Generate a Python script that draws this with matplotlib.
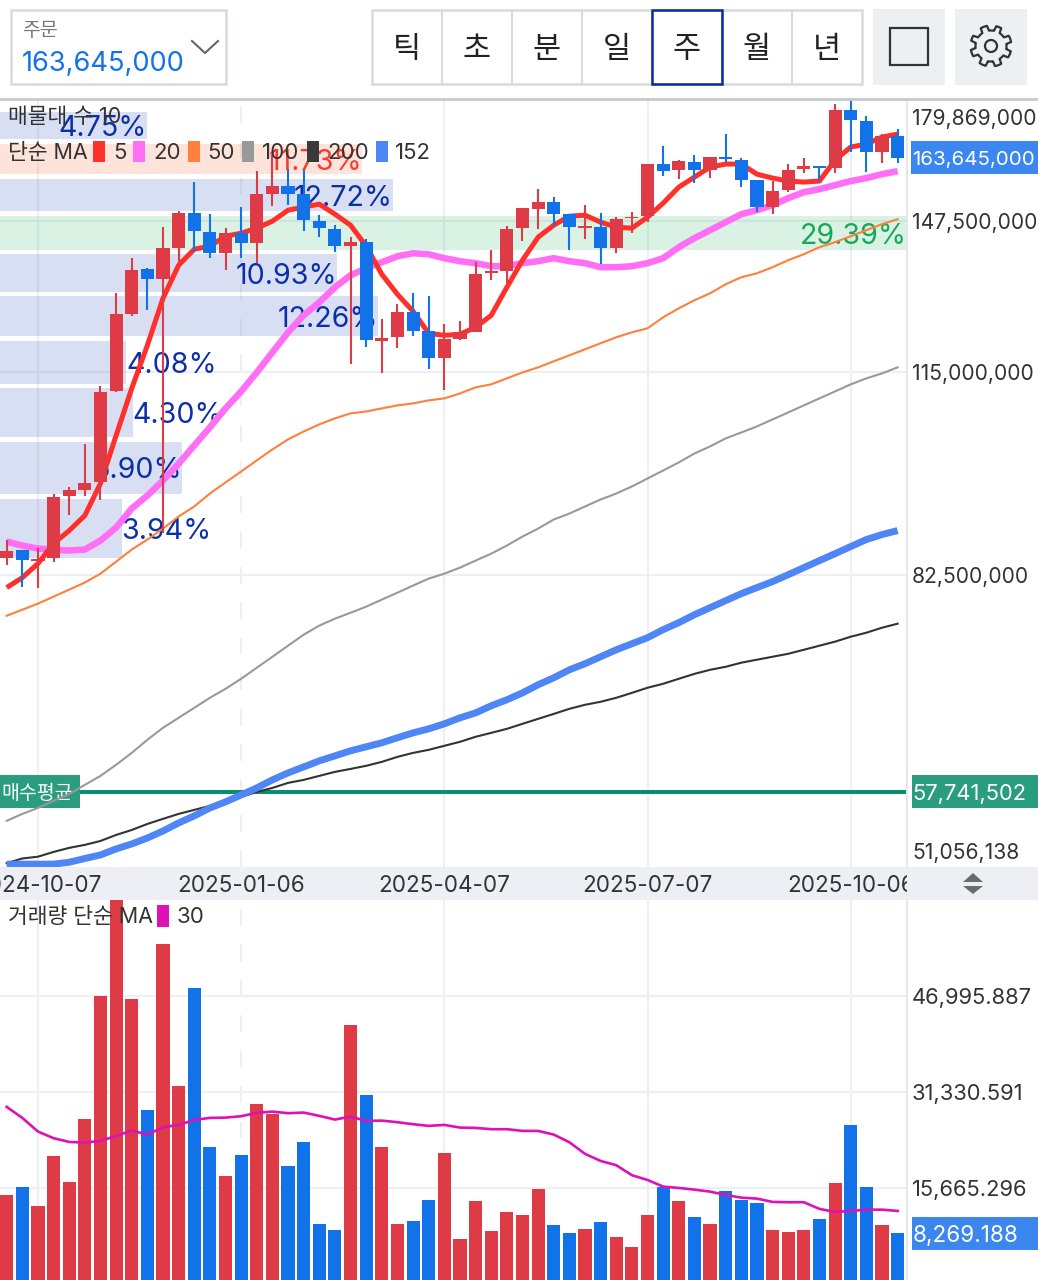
import numpy as np
import matplotlib
matplotlib.use("Agg")
import matplotlib.pyplot as plt
from matplotlib.patches import Rectangle, Polygon, Circle
from matplotlib.lines import Line2D
from matplotlib.transforms import Affine2D

W, H = 1038, 1280
plt.rcParams['font.family'] = ['Inter', 'Noto Sans CJK KR', 'DejaVu Sans']

# weekly candles, million won
opens = [84.85, 85.97, 84.43, 84.85, 93.95, 94.88, 95.99, 111.47, 126.51, 136.23,
         134.01, 141.02, 149.36, 144.76, 139.85, 144.53, 142.19, 154.10, 156.15, 154.10,
         147.42, 145.49, 141.49, 142.42, 121.03, 121.83, 126.92, 123.03, 117.70, 121.43,
         122.82, 135.33, 135.77, 145.73, 150.35, 152.10, 149.12, 145.73, 145.97, 141.02,
         148.15, 148.63, 161.91, 160.30, 162.44, 160.30, 163.77, 162.98, 157.70, 150.85,
         155.12, 160.57, 161.37, 160.84, 176.93, 173.77, 165.11, 169.53]
highs = [87.40, 85.97, 86.26, 94.26, 95.20, 102.18, 112.40, 130.95, 138.72, 136.45,
         145.97, 149.85, 157.19, 149.12, 145.73, 150.85, 160.03, 164.31, 160.57, 160.30,
         148.87, 146.45, 143.59, 143.12, 125.49, 128.62, 130.95, 130.31, 124.46, 125.07,
         137.81, 140.55, 146.21, 150.60, 155.38, 153.35, 149.12, 151.35, 149.36, 148.39,
         149.60, 161.91, 166.77, 162.98, 164.31, 163.77, 170.08, 163.51, 157.70, 157.45,
         161.91, 163.51, 161.37, 178.69, 179.87, 175.20, 170.08, 171.49]
lows = [83.88, 80.90, 80.77, 84.29, 90.92, 93.95, 93.19, 111.28, 126.10, 127.34,
        88.40, 137.59, 140.08, 138.72, 136.00, 138.72, 137.59, 151.10, 151.35, 145.00,
        143.59, 140.08, 116.54, 119.84, 114.81, 119.64, 122.03, 115.58, 111.65, 121.23,
        122.82, 133.79, 133.14, 142.65, 145.49, 146.21, 140.55, 143.12, 137.37, 139.85,
        144.53, 147.18, 158.74, 157.96, 156.93, 158.22, 162.44, 155.89, 149.60, 149.12,
        154.60, 159.51, 157.45, 159.51, 165.11, 159.77, 162.17, 162.17]
closes = [85.83, 84.57, 84.71, 93.80, 94.73, 95.83, 111.28, 126.51, 136.00, 134.01,
          141.02, 149.36, 145.00, 139.85, 144.53, 142.19, 154.10, 156.15, 154.10, 147.66,
          145.73, 141.49, 142.42, 121.23, 121.63, 126.92, 123.03, 117.70, 121.43, 122.82,
          135.11, 135.77, 145.49, 150.60, 152.10, 149.12, 145.97, 146.21, 141.02, 147.90,
          148.39, 161.91, 160.03, 162.71, 160.30, 163.77, 163.24, 157.70, 150.85, 154.86,
          160.30, 161.37, 160.84, 176.93, 174.06, 165.11, 169.53, 163.645]

ma5 = [80.77, 82.10, 84.02, 86.83, 88.70, 90.92, 95.83, 103.70, 112.02, 120.24,
       129.89, 137.14, 140.78, 141.49, 143.83, 144.53, 145.73, 147.42, 150.10, 150.85,
       151.60, 149.12, 146.45, 141.49, 135.11, 130.74, 127.13, 122.62, 122.22, 122.42,
       123.85, 126.30, 132.25, 138.27, 143.59, 146.45, 148.63, 148.87, 147.18, 145.97,
       145.73, 148.39, 151.85, 155.89, 158.48, 161.10, 161.91, 161.91, 159.25, 158.22,
       157.45, 157.19, 157.45, 162.98, 166.49, 167.32, 169.25, 170.08]
ma20 = [87.11, 86.54, 86.11, 85.97, 85.83, 85.97, 87.26, 89.14, 91.97, 93.95,
        96.31, 99.00, 102.01, 105.07, 108.40, 111.47, 115.00, 118.85, 122.82, 126.30,
        129.04, 132.25, 134.89, 136.45, 137.81, 139.17, 139.85, 139.63, 138.72, 138.04,
        137.59, 136.91, 136.91, 137.59, 138.04, 138.72, 138.04, 137.59, 136.68, 136.68,
        136.91, 137.59, 138.72, 141.25, 143.36, 145.24, 147.18, 149.12, 150.10, 151.35,
        153.10, 154.60, 155.38, 156.41, 157.45, 158.22, 159.25, 160.03]
ma50 = [77.12, 77.89, 78.67, 79.58, 80.50, 81.44, 82.64, 84.29, 85.97, 87.40,
        88.99, 90.77, 92.28, 94.26, 95.99, 97.73, 99.53, 101.34, 103.02, 104.37,
        105.59, 106.64, 107.51, 107.86, 108.40, 108.94, 109.30, 109.84, 110.20, 111.10,
        112.21, 112.77, 113.88, 115.00, 115.96, 117.12, 118.27, 119.45, 120.64, 121.83,
        122.82, 123.64, 125.89, 127.76, 129.46, 130.95, 132.91, 134.45, 135.33, 136.68,
        138.27, 139.63, 141.25, 142.42, 143.83, 145.24, 146.70, 147.90]
ma100 = [55.07, 55.70, 56.25, 56.91, 57.56, 58.42, 59.29, 60.38, 61.57, 62.91,
         64.16, 65.22, 66.30, 67.40, 68.40, 69.54, 70.81, 72.10, 73.42, 74.76,
         75.88, 76.75, 77.50, 78.28, 79.19, 80.10, 81.04, 81.97, 82.64, 83.46,
         84.43, 85.40, 86.54, 87.83, 88.99, 90.32, 91.21, 92.28, 93.34, 94.26,
         95.36, 96.62, 97.89, 99.20, 100.66, 101.84, 103.19, 104.20, 105.24, 106.46,
         107.68, 108.94, 110.20, 111.47, 112.77, 113.88, 114.81, 115.96]
ma200 = [51.37, 51.77, 51.92, 52.33, 52.68, 52.94, 53.28, 53.81, 54.25, 54.79,
         55.25, 55.70, 56.07, 56.44, 56.81, 57.28, 57.75, 58.13, 58.61, 58.90,
         59.29, 59.68, 59.97, 60.28, 60.67, 61.17, 61.57, 61.88, 62.29, 62.70,
         63.22, 63.63, 64.05, 64.58, 65.11, 65.64, 66.19, 66.63, 66.96, 67.40,
         67.95, 68.52, 68.97, 69.54, 70.10, 70.57, 70.92, 71.40, 71.75, 72.10,
         72.45, 72.93, 73.42, 73.91, 74.51, 75.00, 75.62, 76.12]
ma152 = [51.29, 51.29, 51.29, 51.29, 51.45, 51.77, 52.07, 52.59, 53.02, 53.54,
         54.16, 54.88, 55.52, 56.25, 56.81, 57.46, 58.13, 58.90, 59.58, 60.17,
         60.77, 61.27, 61.78, 62.19, 62.60, 63.12, 63.63, 64.05, 64.58, 65.22,
         65.75, 66.52, 67.18, 67.95, 68.86, 69.65, 70.57, 71.28, 72.10, 72.93,
         73.66, 74.39, 75.38, 76.25, 77.25, 78.15, 79.06, 79.97, 80.77, 81.57,
         82.50, 83.46, 84.43, 85.40, 86.40, 87.40, 88.11, 88.70]

volumes = [14530, 15890, 12730, 20950, 16600, 26890, 46970, 64000, 46530, 28410,
           55400, 32280, 48280, 22320, 17630, 21110, 29390, 27760, 19320, 23230,
           9800, 8770, 42240, 30860, 22420, 9850, 10290, 13670, 21440, 7400,
           13600, 8600, 11760, 11270, 15510, 9580, 8280, 9030, 10170, 7720,
           6090, 11310, 15840, 13500, 10940, 9750, 15180, 13760, 13220, 8820,
           8490, 8770, 10610, 16440, 25960, 15790, 9580, 8269.188]
vol_ma30 = [28900, 27100, 24870, 23790, 23180, 23070, 23350, 24160, 25030, 24380,
            25580, 25960, 26780, 27100, 27150, 27380, 27920, 28130, 27870, 27970,
            27430, 26830, 27320, 26610, 26660, 26400, 26070, 25800, 25960, 25520,
            25470, 25260, 25260, 24980, 24980, 24380, 23130, 21230, 20080, 19380,
            17750, 16980, 15890, 15670, 15400, 15070, 14530, 14090, 13930, 13390,
            13340, 13340, 12250, 11760, 11920, 12130, 12130, 11920]

# volume profile rows: low, high (million won), share of volume
vp_low = [168.70, 159.25, 149.85, 140.55, 131.16, 122.03, 112.77, 103.36, 94.26, 84.85]
vp_high = [176.34, 167.32, 157.96, 148.63, 139.63, 130.31, 121.03, 112.02, 102.51, 93.49]
vp_pct = [4.75, 11.73, 12.72, 29.39, 10.93, 12.26, 4.08, 4.30, 5.90, 3.94]

date_idx = [2, 15, 28, 41, 54]
date_labels = ['2024-10-07', '2025-01-06', '2025-04-07', '2025-07-07', '2025-10-06']
price_ticks = [179.869, 147.5, 115.0, 82.5, 51.056138]
vol_ticks = [46995.887, 31330.591, 15665.296]
avg_buy = 57.741502
last_price = 163.645
last_vol = 8269.188

RED = '#df3b47'
BLUE = '#1272ea'
GRID = '#eeeff4'
TEXT = '#333333'
GREEN_BOX = '#2a9d7f'

x = np.arange(len(closes))
xmin = -6.7 / 15.63
xmax = (907 - 6.7) / 15.63
colors = [RED if c >= o else BLUE for o, c in zip(opens, closes)]

fig = plt.figure(figsize=(W / 100, H / 100), dpi=100, facecolor='white')
to_px = Affine2D().scale(1, -1).translate(0, H)


def make_ax(left, top, right, bottom):
    a = fig.add_axes([left / W, 1 - bottom / H, (right - left) / W, (bottom - top) / H])
    for s in a.spines.values():
        s.set_visible(False)
    a.set_xticks([])
    a.set_yticks([])
    a.set_xlim(xmin, xmax)
    return a


def label(px, py, s, size, color=TEXT, ha='left', dy=2, **kw):
    # dy: Inter sits a little high with va=center
    return fig.text(px, py + dy, s, transform=to_px, fontsize=size, color=color, ha=ha, va='center', **kw)


def box(px0, py0, px1, py1, fc='none', ec='none', lw=0, z=1):
    r = Rectangle((px0, py0), px1 - px0, py1 - py0, transform=to_px, facecolor=fc, edgecolor=ec, linewidth=lw, zorder=z)
    fig.add_artist(r)
    return r


# price panel
ax = make_ax(0, 100, 907, 867)
ax.set_yscale('log')
ax.set_ylim(51.05, 179.87)
ax.minorticks_off()
ax.set_yticks([])
ax.tick_params(which='both', left=False, right=False, labelleft=False)

for i in date_idx:
    ax.axvline(i, color=GRID, lw=1.5, ls=(0, (8, 9)) if i == 15 else '-', zorder=0.5)
for p in [115.0, 82.5, 147.5]:
    ax.axhline(p, color=GRID, lw=1.5, zorder=0.5)

vp_max = max(vp_pct)
shift_down = ax.transData + Affine2D().translate(0, -3)
for lo, hi, pct in zip(vp_low, vp_high, vp_pct):
    if pct == vp_max:
        fc, tc = '#46be78', '#17a858'
    elif pct == 11.73:
        fc, tc = '#f57346', '#fb3a2e'
    else:
        fc, tc = '#405fbf', '#0b2fa8'
    bar_w = pct / vp_max * (xmax - xmin)
    ax.barh(lo, bar_w, height=hi - lo, left=xmin, align='edge', color=fc, alpha=0.2, lw=0, zorder=1)
    # narrow rows put the label outside the bar
    outside = pct in (3.94, 4.08, 4.30)
    ax.text(xmin + bar_w, np.sqrt(lo * hi), f'{pct:.2f}%', fontsize=20.6, color=tc, transform=shift_down,
            ha='left' if outside else 'right', va='center', zorder=2)

ax.axhline(avg_buy, color='#0a8f6c', lw=2.9, zorder=2.5)
ax.plot(x, ma50, color='#ff7f3c', lw=1.5, zorder=3)
ax.plot(x, ma100, color='#999999', lw=1.5, zorder=3)
ax.plot(x, ma200, color='#333333', lw=1.5, zorder=3)
ax.plot(x, ma152, color='#4f86f5', lw=5, zorder=3, solid_capstyle='butt')
ax.plot(x, ma20, color='#ff6ef5', lw=4.7, zorder=3, solid_capstyle='butt')
ax.plot(x, ma5, color='#ff2f2a', lw=3.6, zorder=3.1, solid_capstyle='butt')

ax.vlines(x, lows, highs, colors=colors, lw=1.5, zorder=4)
body_lo = [min(o, c) for o, c in zip(opens, closes)]
body_h = [abs(c - o) for o, c in zip(opens, closes)]
ax.bar(x, body_h, bottom=body_lo, width=0.84, color=colors, lw=0, zorder=4)

# left tag of the average buy line sits under the MA lines
ax.add_patch(Rectangle((0, 775), 80, 33, transform=to_px, facecolor=GREEN_BOX, zorder=2.6, clip_on=False))
ax.text(1, 793.5, '매수평균', transform=to_px, fontsize=14, color='white', ha='left', va='center', zorder=2.7)

# price axis labels, the two end labels are pushed into the panel
tick_shift = [-17, 0, 0, 0, 16]
tr = ax.get_yaxis_transform()
for p, dy in zip(price_ticks, tick_shift):
    ax.annotate(f'{p * 1e6:,.0f}', xy=(1, p), xycoords=tr, xytext=(5, dy - 2), textcoords='offset pixels',
                fontsize=15.2, color=TEXT, ha='left', va='center')

# date strip
ax_date = make_ax(0, 867, 907, 900)
ax_date.set_facecolor('#eeeff5')
ax_date.set_ylim(0, 1)
for i, d in zip(date_idx, date_labels):
    ax_date.text(i, 0.41, d, fontsize=16.2, color=TEXT, ha='center', va='center', clip_on=True)
box(907, 867, W, 900, fc='#eeeff5')
fig.add_artist(Polygon([[963, 882], [983, 882], [973, 873]], transform=to_px, facecolor='#6b6b6b'))
fig.add_artist(Polygon([[963, 886], [983, 886], [973, 894]], transform=to_px, facecolor='#6b6b6b'))

# volume panel
ax_vol = make_ax(0, 900, 907, 1280)
ax_vol.set_ylim(650, 62661)
for i in date_idx:
    ax_vol.axvline(i, color=GRID, lw=1.5, ls=(0, (8, 9)) if i == 15 else '-', zorder=0.5)
for v in vol_ticks:
    ax_vol.axhline(v, color=GRID, lw=1.5, zorder=0.5)
ax_vol.bar(x, volumes, width=0.84, color=colors, lw=0, zorder=2)
ax_vol.plot(x, vol_ma30, color='#dd11b5', lw=1.9, zorder=3)
tr_vol = ax_vol.get_yaxis_transform()
for v in vol_ticks:
    ax_vol.annotate(f'{v:,.3f}', xy=(1, v), xycoords=tr_vol, xytext=(5, -2), textcoords='offset pixels',
                    fontsize=15.8, color=TEXT, ha='left', va='center')

# panel borders
fig.add_artist(Line2D([907, 907], [100, 867], transform=to_px, color='#e6e7ec', lw=1.5))
fig.add_artist(Line2D([907, 907], [900, 1280], transform=to_px, color='#e6e7ec', lw=1.5))
fig.add_artist(Line2D([0, W], [98.5, 98.5], transform=to_px, color='#c9c9c9', lw=2))

# price and volume tags on the right
box(911, 141, W, 174, fc='#3b86ef', z=2)
label(912, 158, f'{last_price * 1e6:,.0f}', 14.8, 'white')
box(912, 775, W, 808, fc=GREEN_BOX, z=2)
label(912, 792, f'{avg_buy * 1e6:,.0f}', 15.8, 'white')
box(912, 1217, W, 1250, fc='#3b86ef', z=2)
label(913, 1234, f'{last_vol:,.3f}', 16.2, 'white')

# legends
label(8, 115, '매물대 수 10', 15.5)
label(8, 151, '단순 MA', 15.5)
legend_items = [(93, 113, '#ff2f2a', '5'), (133, 153, '#ff6ef5', '20'), (188, 207, '#ff7f3c', '50'),
                (242, 262, '#999999', '100'), (307, 327, '#3a3a3a', '200'), (376, 395, '#4f86f5', '152')]
for sx, tx, col, s in legend_items:
    box(sx, 141, sx + 12, 162, fc=col, z=4)
    label(tx, 151, s, 16)
label(8, 915, '거래량 단순 MA', 15.5)
box(157, 905, 169, 927, fc='#dd11b5', z=4)
label(177, 915, '30', 16)

# toolbar
box(11, 10, 226, 84, ec='#d9dadd', lw=1.8)
label(22, 29, '주문', 14, '#777777')
label(22, 61, '163,645,000', 19.6, BLUE, dy=3)
fig.add_artist(Line2D([192, 205, 218], [41, 53, 41], transform=to_px, color='#666666', lw=1.5))

btn_labels = ['틱', '초', '분', '일', '주', '월', '년']
box(372, 10, 862, 84, ec='#d9dadd', lw=1.8)
for k, s in enumerate(btn_labels):
    cx = 407 + 70 * k
    if k > 0:
        fig.add_artist(Line2D([cx - 35, cx - 35], [10, 84], transform=to_px, color='#d9dadd', lw=1.5))
    label(cx, 46, s, 22, '#222222', ha='center', dy=4)
box(652, 10, 722, 84, ec='#0a2a9e', lw=1.8, z=2)

box(873, 9, 945, 85, fc='#eeeff1')
box(890, 28, 928, 65, fc='#eeeff1', ec='#333333', lw=1.6, z=2)
box(955, 9, 1027, 85, fc='#eeeff1')
theta = np.linspace(0, 2 * np.pi, 97)[:-1]
teeth = np.where(np.cos(8 * (theta + np.pi / 8)) > 0, 20.5, 15.5)
gear = np.column_stack([991 + teeth * np.cos(theta), 46 + teeth * np.sin(theta)])
fig.add_artist(Polygon(gear, closed=True, transform=to_px, facecolor='none', edgecolor='#333333', lw=1.6, joinstyle='round', zorder=2))
fig.add_artist(Circle((991, 46), 6, transform=to_px, facecolor='none', edgecolor='#333333', lw=1.6, zorder=2))

fig.savefig('out.png', dpi=100)
